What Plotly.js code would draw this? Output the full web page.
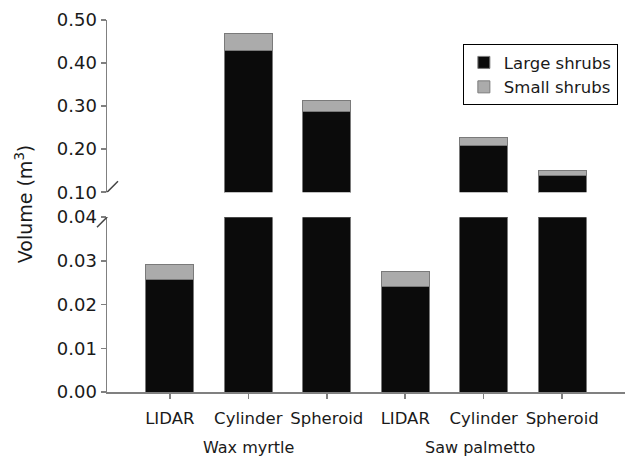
<!DOCTYPE html>
<html>
<head>
<meta charset="utf-8">
<script src="https://cdn.plot.ly/plotly-3.0.1.min.js"></script>
<style>html,body{margin:0;padding:0;background:#fff;}#chart{width:640px;height:462px;}</style>
</head>
<body>
<div id="chart"></div>
<script>
// Data
const methods = ["LIDAR", "Cylinder", "Spheroid", "LIDAR", "Cylinder", "Spheroid"];
const species = ["Wax myrtle", "Saw palmetto"];
const positions = [0, 1, 2, 3, 4, 5];
const largeShrubs = [0.0258, 0.430, 0.288, 0.0242, 0.209, 0.139];
const smallShrubs = [0.0033, 0.038, 0.026, 0.0034, 0.018, 0.012];
const lowerTicks = [0, 0.01, 0.02, 0.03, 0.04];
const upperTicks = [0.10, 0.20, 0.30, 0.40, 0.50];

const FONT = "DejaVu Sans, Liberation Sans, Arial, sans-serif";
const lineCol = "#808080";
const textCol = "#1a1a1a";
const barLine = {color: "#7a7a7a", width: 1};

function mk(y, name, color, yaxis, showlegend) {
  return {
    type: "bar", x: positions, y: y, name: name, yaxis: yaxis, xaxis: "x",
    marker: {color: color, line: barLine}, width: 0.61,
    showlegend: showlegend, hoverinfo: "skip"
  };
}

const data = [
  mk(largeShrubs, "Large shrubs", "#0b0b0b", "y", true),
  mk(smallShrubs, "Small shrubs", "#ababab", "y", true),
  mk(largeShrubs, "Large shrubs", "#0b0b0b", "y2", false),
  mk(smallShrubs, "Small shrubs", "#ababab", "y2", false)
];

const layout = {
  width: 640, height: 462,
  margin: {l: 107, r: 15, t: 20, b: 70},
  paper_bgcolor: "#fff", plot_bgcolor: "#fff",
  barmode: "stack",
  font: {family: FONT, size: 16, color: textCol},
  showlegend: true,
  legend: {
    traceorder: "normal",
    x: 0.687, y: 0.935, xanchor: "left", yanchor: "top",
    bordercolor: "#000", borderwidth: 1, bgcolor: "#fff",
    font: {family: FONT, size: 16.5, color: textCol},
    tracegroupgap: 0, itemwidth: 30
  },
  xaxis: {
    range: [-0.8, 5.8], tickvals: positions, ticktext: methods,
    showline: true, linecolor: lineCol, linewidth: 1.5,
    ticks: "outside", ticklen: 5, tickcolor: lineCol, tickwidth: 1.5,
    ticklabelstandoff: 6,
    showgrid: false, zeroline: false, anchor: "y",
    tickfont: {family: FONT, size: 16.5, color: textCol}
  },
  yaxis: {
    domain: [0, 0.47], range: [0, 0.04],
    tickvals: lowerTicks, ticktext: lowerTicks.map(v => v.toFixed(2)),
    showline: true, linecolor: lineCol, linewidth: 1.5,
    ticks: "outside", ticklen: 5, tickcolor: lineCol, tickwidth: 1.5,
    showgrid: false, zeroline: false, anchor: "x",
    tickfont: {family: FONT, size: 18, color: textCol}
  },
  yaxis2: {
    domain: [0.537, 1], range: [0.10, 0.50],
    tickvals: upperTicks, ticktext: upperTicks.map(v => v.toFixed(2)),
    showline: true, linecolor: lineCol, linewidth: 1.5,
    ticks: "outside", ticklen: 5, tickcolor: lineCol, tickwidth: 1.5,
    showgrid: false, zeroline: false, anchor: "x",
    tickfont: {family: FONT, size: 18, color: textCol}
  },
  shapes: [
    {type: "line", xref: "paper", yref: "y2", xsizemode: "pixel", ysizemode: "pixel",
     xanchor: 0, yanchor: 0.10, x0: -10, x1: 11, y0: -10, y1: 11,
     line: {color: "#444", width: 1.5}},
    {type: "line", xref: "paper", yref: "y", xsizemode: "pixel", ysizemode: "pixel",
     xanchor: 0, yanchor: 0.04, x0: -10, x1: 11, y0: -10, y1: 11,
     line: {color: "#444", width: 1.5}}
  ],
  annotations: [
    {xref: "paper", yref: "paper", x: -0.16, y: 0.505, text: "Volume (m<sup>3</sup>)",
     textangle: -90, showarrow: false, xanchor: "center", yanchor: "middle",
     font: {family: FONT, size: 19, color: textCol}},
    {xref: "x", yref: "paper", x: 1, y: -0.15, yanchor: "middle", text: species[0],
     showarrow: false, font: {family: FONT, size: 16, color: textCol}},
    {xref: "x", yref: "paper", x: 3.95, y: -0.15, yanchor: "middle", text: species[1],
     showarrow: false, font: {family: FONT, size: 16, color: textCol}}
  ]
};

Plotly.newPlot("chart", data, layout, {displayModeBar: false, staticPlot: true});
</script>
</body>
</html>
